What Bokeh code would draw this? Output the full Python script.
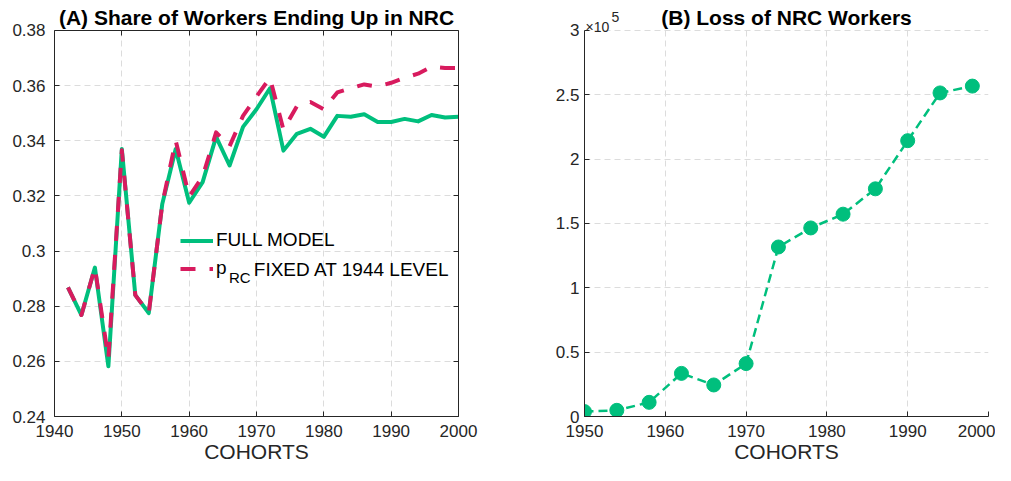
from bokeh.plotting import figure
from bokeh.models import (Legend, LegendItem, Label, FixedTicker, CustomJSTickFormatter,
                          LinearAxis, Range1d)
from bokeh.layouts import row
from bokeh.embed import file_html
from bokeh.resources import INLINE

# ---------------- Panel A data ----------------
cohorts_a = [1942, 1944, 1946, 1948, 1950, 1952, 1954, 1956, 1958, 1960,
             1962, 1964, 1966, 1968, 1970, 1972, 1974, 1976, 1978, 1980,
             1982, 1984, 1986, 1988, 1990, 1992, 1994, 1996, 1998, 2000]
full_model = [0.2868, 0.2768, 0.2940, 0.2582, 0.3370, 0.2840, 0.2775, 0.3170, 0.3370, 0.3175,
              0.3250, 0.3414, 0.3310, 0.3450, 0.3514, 0.3590, 0.3364, 0.3425, 0.3443, 0.3414,
              0.3490, 0.3487, 0.3496, 0.3468, 0.3468, 0.3479, 0.3470, 0.3493, 0.3484, 0.3487]
prc_fixed = [0.2868, 0.2768, 0.2940, 0.2610, 0.3365, 0.2840, 0.2775, 0.3170, 0.3400, 0.3198,
             0.3270, 0.3430, 0.3380, 0.3490, 0.3560, 0.3628, 0.3440, 0.3525, 0.3540, 0.3514,
             0.3575, 0.3590, 0.3604, 0.3596, 0.3610, 0.3628, 0.3643, 0.3668, 0.3664, 0.3664]
x_ticks_a = [1940, 1950, 1960, 1970, 1980, 1990, 2000]
y_ticks_a = [0.24, 0.26, 0.28, 0.30, 0.32, 0.34, 0.36, 0.38]

# ---------------- Panel B data ----------------
cohorts_b = [1950, 1954, 1958, 1962, 1966, 1970, 1974, 1978, 1982, 1986, 1990, 1994, 1998]
nrc_loss = [3800, 4800, 11000, 33500, 24500, 41100, 131700, 146500, 157200, 176900,
            214300, 251400, 256700]
x_ticks_b = [1950, 1960, 1970, 1980, 1990, 2000]
y_ticks_b = [0, 50000, 100000, 150000, 200000, 250000, 300000]

GREEN = "#00BF7D"
PINK = "#D81B5E"
TXT = "#262626"
GRID = "#dcdcdc"
FONT = "Liberation Sans"

H = 465
BOTTOM = 47          # space for tick labels + axis label
AX_TOP = 30          # where the top tick of each panel should sit
TOP = 4              # frames reach up to here so titles can be drawn inside them
STRETCH = (H - BOTTOM - TOP) / (H - BOTTOM - AX_TOP)


def style(p, xt, yt, yfmt, ylo, yhi):
    p.xaxis.ticker = FixedTicker(ticks=xt)
    p.yaxis.ticker = FixedTicker(ticks=yt)
    p.yaxis.formatter = yfmt
    p.yaxis.bounds = (ylo, yhi)
    for ax in (p.xaxis, p.yaxis):
        ax.axis_line_color = TXT
        ax.axis_line_width = 1
        ax.major_tick_line_color = TXT
        ax.major_tick_in = 5
        ax.major_tick_out = 0
        ax.minor_tick_in = 0
        ax.minor_tick_out = 0
        ax.major_label_text_font = FONT
        ax.major_label_text_font_size = "17px"
        ax.major_label_text_color = TXT
    p.xaxis.major_label_standoff = 8
    p.xaxis.axis_label = "COHORTS"
    p.xaxis.axis_label_text_font = FONT
    p.xaxis.axis_label_text_font_size = "21px"
    p.xaxis.axis_label_text_font_style = "normal"
    p.xaxis.axis_label_text_color = TXT
    p.xaxis.axis_label_standoff = 0
    for g in (p.xgrid, p.ygrid):
        g.grid_line_color = GRID
        g.grid_line_dash = "6 4"
        g.grid_line_width = 1
    p.xgrid.ticker = FixedTicker(ticks=xt)
    p.ygrid.ticker = FixedTicker(ticks=yt)
    p.xgrid.cross_bounds = (ylo, yhi)
    p.outline_line_color = None
    p.background_fill_color = "white"
    p.border_fill_color = "white"


def title_label(x, y, text):
    return Label(x=x, y=y, y_offset=13, text=text, text_font=FONT, text_font_size="21px",
                 text_font_style="bold", text_color="black", text_baseline="alphabetic",
                 text_align="center")


# ---------------- Panel A ----------------
ya_lo, ya_hi = y_ticks_a[0], y_ticks_a[-1]
p1 = figure(width=490, height=H, x_range=Range1d(1940, 2000),
            y_range=Range1d(ya_lo, ya_lo + (ya_hi - ya_lo) * STRETCH),
            output_backend="svg", toolbar_location=None, title=None,
            min_border_left=54, min_border_right=32, min_border_bottom=BOTTOM,
            min_border_top=TOP)
style(p1, x_ticks_a, y_ticks_a,
      CustomJSTickFormatter(code="return String(parseFloat(tick.toFixed(2)));"), ya_lo, ya_hi)
p1.yaxis.major_label_standoff = 9

# box: right and top edges with inner ticks
empty_fmt = CustomJSTickFormatter(code="return '';")
ax_r = LinearAxis(ticker=FixedTicker(ticks=y_ticks_a), formatter=empty_fmt, bounds=(ya_lo, ya_hi),
                  axis_line_color=TXT, major_tick_line_color=TXT, major_tick_in=5,
                  major_tick_out=0, minor_tick_in=0, minor_tick_out=0,
                  major_label_standoff=0, major_label_text_font_size="1px")
ax_t = LinearAxis(ticker=FixedTicker(ticks=x_ticks_a), formatter=empty_fmt, fixed_location=ya_hi,
                  axis_line_color=TXT, major_tick_line_color=TXT, major_tick_in=5,
                  major_tick_out=0, minor_tick_in=0, minor_tick_out=0,
                  major_label_standoff=0, major_label_text_font_size="1px")
p1.add_layout(ax_r, "right")
p1.add_layout(ax_t, "above")

r_green = p1.line(cohorts_a, full_model, line_color=GREEN, line_width=4, line_join="round")
r_pink = p1.line(cohorts_a, prc_fixed, line_color=PINK, line_width=4, line_dash="15 14",
                 line_join="round")

legend = Legend(items=[LegendItem(label="FULL MODEL", renderers=[r_green]),
                       LegendItem(label="p", renderers=[r_pink])],
                location=(126, 137), orientation="vertical",
                glyph_width=33, glyph_height=21, label_height=21, label_standoff=3,
                spacing=6, padding=0, margin=0,
                border_line_color=None, background_fill_alpha=0,
                label_text_font=FONT, label_text_font_size="19px", label_text_color="black")
p1.add_layout(legend)

p1.add_layout(Label(x=1965.9, y=0.2905, text="RC", text_font=FONT, text_font_size="15px",
                    text_color="black", text_baseline="middle", text_align="left"))
p1.add_layout(Label(x=1969.6, y=0.2934, text="FIXED AT 1944 LEVEL", text_font=FONT,
                    text_font_size="19px", text_color="black", text_baseline="middle",
                    text_align="left"))
p1.add_layout(title_label(1970, ya_hi, "(A) Share of Workers Ending Up in NRC"))

# ---------------- Panel B ----------------
yb_lo, yb_hi = y_ticks_b[0], y_ticks_b[-1]
p2 = figure(width=505, height=H, x_range=Range1d(1950, 2000),
            y_range=Range1d(yb_lo, yb_lo + (yb_hi - yb_lo) * STRETCH),
            output_backend="svg", toolbar_location=None, title=None,
            min_border_left=94, min_border_right=7, min_border_bottom=BOTTOM,
            min_border_top=TOP)
style(p2, x_ticks_b, y_ticks_b,
      CustomJSTickFormatter(code="return String(parseFloat((tick/1e5).toFixed(2)));"),
      yb_lo, yb_hi)
p2.yaxis.major_label_standoff = 5

p2.line(cohorts_b, nrc_loss, line_color=GREEN, line_width=2.5, line_dash="9 5")
p2.scatter(cohorts_b, nrc_loss, size=14, marker="circle", fill_color=GREEN, line_color=GREEN)

p2.add_layout(title_label(1975, yb_hi, "(B) Loss of NRC Workers"))
p2.add_layout(Label(x=1950, y=yb_hi, x_offset=1, y_offset=-5, text="×10", text_font=FONT,
                    text_font_size="14px", text_color=TXT, text_baseline="bottom",
                    text_align="left"))
p2.add_layout(Label(x=1950, y=yb_hi, x_offset=27, y_offset=8, text="5", text_font=FONT,
                    text_font_size="14px", text_color=TXT, text_baseline="bottom",
                    text_align="left"))

layout = row(p1, p2)
open("out.html", "w").write(file_html(layout, INLINE))
